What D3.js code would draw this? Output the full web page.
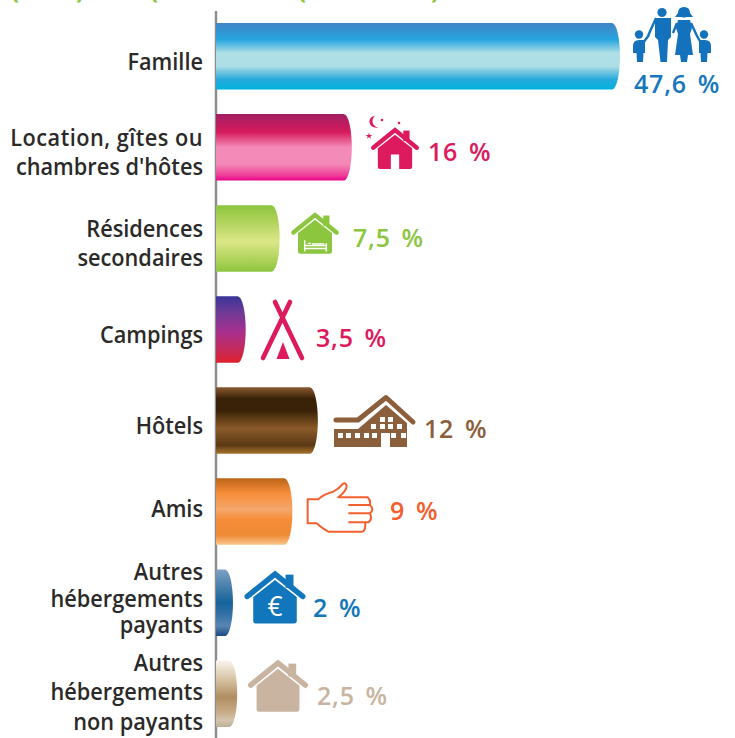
<!DOCTYPE html>
<html>
<head>
<meta charset="utf-8">
<script src="https://cdn.jsdelivr.net/npm/d3@7"></script>
<style>
  html, body { margin: 0; padding: 0; background: #fff; }
  svg { display: block; }
  text { font-family: "Open Sans", sans-serif; }
</style>
</head>
<body>
<div id="chart"></div>
<script>
const categories = ["Famille", "Location, gîtes ou|chambres d'hôtes", "Résidences|secondaires", "Campings", "Hôtels", "Amis", "Autres|hébergements|payants", "Autres|hébergements|non payants"];
const values = [47.6, 16, 7.5, 3.5, 12, 9, 2, 2.5];
const valueLabels = ["47,6 %", "16 %", "7,5 %", "3,5 %", "12 %", "9 %", "2 %", "2,5 %"];

// styling per bar
const labelColors = ["#1776bc", "#dd1a5e", "#8cc63f", "#dd1a5e", "#8b5e3c", "#f26030", "#1176bc", "#c8b4a0"];
const barStops = [
  [[0, "#4284c5"], [0.25, "#25a5de"], [0.45, "#aedfe6"], [0.65, "#aedfe6"], [0.85, "#25a9dc"], [1, "#00b3dc"]],
  [[0, "#a01f63"], [0.27, "#d61a5c"], [0.5, "#f48ab8"], [0.75, "#f48ab8"], [0.92, "#ee3f98"], [1, "#ec008c"]],
  [[0, "#8dc63f"], [0.2, "#a9d055"], [0.55, "#dce788"], [0.85, "#a9d055"], [1, "#8dc63f"]],
  [[0, "#3a3597"], [0.25, "#6f3a96"], [0.55, "#aa2f8c"], [0.8, "#c42a5c"], [1, "#e0202c"]],
  [[0, "#8b5a32"], [0.17, "#3a2208"], [0.35, "#3a2208"], [0.62, "#8a5a28"], [0.87, "#5a3814"], [1, "#a8742c"]],
  [[0, "#bb6418"], [0.22, "#f68d39"], [0.47, "#f5a76c"], [0.62, "#f68d39"], [0.85, "#ee8a34"], [1, "#fcc58c"]],
  [[0, "#7da0c4"], [0.3, "#3f7aa8"], [0.5, "#14649c"], [0.65, "#2f6ea4"], [0.85, "#5a86b4"], [1, "#1c4a80"]],
  [[0, "#f8f4ee"], [0.28, "#d8c4a4"], [0.55, "#b08e60"], [0.75, "#c4a884"], [0.9, "#d4c4ac"], [1, "#bcae98"]]
];
// text placement (baselines do not follow the bars exactly in the original)
const labelBaselines = [[70], [146, 175], [237, 266], [343], [434], [517], [580, 607, 633], [671, 700, 730]];
const valuePos = [[634, 93], [428, 161], [353, 247], [316, 347], [424, 438], [390, 520], [313, 617], [317, 705]];

const width = 735, height = 738;
const svg = d3.select("#chart").append("svg").attr("width", width).attr("height", height);

const x = d3.scaleLinear().domain([0, 47.6]).range([216, 620]);
const y = d3.scaleBand().domain(categories).range([23, 727]).paddingInner(0.27).paddingOuter(0);

const defs = svg.append("defs");
barStops.forEach((stops, i) => {
  const g = defs.append("linearGradient").attr("id", "bar" + i).attr("x1", 0).attr("x2", 0).attr("y1", 0).attr("y2", 1);
  stops.forEach((s) => g.append("stop").attr("offset", s[0]).attr("stop-color", s[1]));
});

// cut off title at the top of the picture, only the descenders show
const titleBits = [[11, "("], [76, ")"], [150, "("], [298, "("], [431, ")"]];
svg.append("g").selectAll("text").data(titleBits).enter().append("text")
  .attr("x", (d) => d[0]).attr("y", -1)
  .attr("font-size", 24).attr("font-weight", 700).attr("fill", "#8dc63f")
  .text((d) => d[1]);

svg.append("line").attr("x1", 216).attr("x2", 216).attr("y1", 11).attr("y2", 738)
  .attr("stroke", "#8a8c90").attr("stroke-width", 2.4);

// bars: flat at the axis, half ellipse on the right end
const barPath = (d) => {
  const w = x(d) - x(0), h = y.bandwidth(), b = 8;
  return `M0,0 H${w - b} A${b},${h / 2} 0 0 1 ${w - b},${h} H0 Z`;
};

svg.append("g").selectAll("path").data(values).enter().append("path")
  .attr("transform", (d, i) => `translate(${x(0)},${y(categories[i])})`)
  .attr("d", barPath)
  .attr("fill", (d, i) => `url(#bar${i})`);

// category labels
const labelScale = 0.945;
const labels = svg.append("g").selectAll("text").data(categories).enter().append("text")
  .attr("text-anchor", "end")
  .attr("font-size", 23).attr("font-weight", 600).attr("fill", "#2b2a29")
  .attr("transform", `scale(${labelScale},1)`);
labels.each(function (d, n) {
  d3.select(this).selectAll("tspan").data(d.split("|")).enter().append("tspan")
    .attr("x", 203 / labelScale)
    .attr("y", (l, i) => labelBaselines[n][i])
    .attr("letter-spacing", (l) => (l.startsWith("Location") ? 0.5 : 0))
    .text((l) => l);
});

// value labels
svg.append("g").selectAll("text").data(valueLabels).enter().append("text")
  .attr("x", (d, i) => valuePos[i][0])
  .attr("y", (d, i) => valuePos[i][1])
  .attr("font-size", 25).attr("font-weight", 600)
  .attr("letter-spacing", 0.8).attr("word-spacing", 3.5)
  .attr("fill", (d, i) => labelColors[i])
  .text((d) => d);

// pictograms
const icons = svg.append("g");

const house = (cx, top, s, color) => {
  const g = icons.append("g").attr("transform", `translate(${cx},${top}) scale(${s})`);
  g.append("path").attr("d", "M-21,18.5 L0,1.5 L21,18.5").attr("fill", "none")
    .attr("stroke", color).attr("stroke-width", 4.2).attr("stroke-linecap", "round");
  g.append("rect").attr("x", 8).attr("y", 2).attr("width", 6).attr("height", 10).attr("fill", color);
  g.append("path").attr("d", "M-16.5,19 L0,6 L16.5,19 V37 Q16.5,39 14.5,39 H-14.5 Q-16.5,39 -16.5,37 Z").attr("fill", color);
  return g;
};

// family
const fam = icons.append("g").attr("fill", "#1472bc");
[[662, 12.5, 4.6], [684, 13, 4.6], [639, 34.5, 4.2], [704, 34.5, 4.2]].forEach((c) =>
  fam.append("circle").attr("cx", c[0]).attr("cy", c[1]).attr("r", c[2]));
fam.append("path").attr("d", "M678,13 Q678,7 684,7 Q690,7 690,13 L693,17 H675 Z");
fam.append("path").attr("d", "M655,18 H671 V37 L668,40 L667,62 H660.5 L658,40 L655,37 Z");
fam.append("path").attr("d", "M678,20 H690 L692,28 L690,34 L693,55 H688 L687,62 H681 L680,55 H675 L678,34 L676,28 Z");
fam.append("path").attr("d", "M633,46 Q633,40 639,40 H645 V53 H643.5 L643,62 H637 L636.5,53 H633 Z");
fam.append("path").attr("d", "M699,40 H705 Q711,40 711,46 V53 H707.5 L707,62 H701 L700.5,53 H699 Z");
fam.append("path").attr("d", "M656,18 L648,36 M643,43 L649,35 M677,23 L673,33 M691,23 L697,36 M697,36 L701,43")
  .attr("fill", "none").attr("stroke", "#1472bc").attr("stroke-width", 2.4);

// location: house at night
const pink = labelColors[1];
const night = house(395, 128.5, 1.04, pink);
night.append("rect").attr("x", -4).attr("y", 25).attr("width", 8).attr("height", 14.5).attr("fill", "#fff");
icons.append("path").attr("d", "M375,116 C368,116 366,128 379,128 C373,127 370,120 375,116 Z").attr("fill", pink);
[[382, 120, 1.3], [399, 123, 1.3]].forEach((c) =>
  icons.append("circle").attr("cx", c[0]).attr("cy", c[1]).attr("r", c[2]).attr("fill", pink));
icons.append("path").attr("d", d3.symbol(d3.symbolStar, 14)()).attr("transform", "translate(369,136)").attr("fill", pink);

// residences: house with a bed
const bed = house(315, 213.5, 1.03, labelColors[2]);
bed.append("path")
  .attr("d", "M-10,26 V37 M11,29 V37 M-10,34 H11 M-10,31 H11 M-7,29 H-4 M-3,29.5 H9")
  .attr("fill", "none").attr("stroke", "#fff").attr("stroke-width", 1.4);

// tent
const tentColor = labelColors[3];
icons.append("path").attr("d", "M275,302 L302,358 M290,302 L263,358").attr("fill", "none")
  .attr("stroke", tentColor).attr("stroke-width", 4.6).attr("stroke-linecap", "round");
icons.append("path").attr("d", "M283,342 L289.5,359 H276.5 Z").attr("fill", tentColor);

// hotel
const hotelColor = labelColors[4];
icons.append("path").attr("d", "M336,420 H358 L386,397.5 L413,422").attr("fill", "none")
  .attr("stroke", hotelColor).attr("stroke-width", 5).attr("stroke-linecap", "round").attr("stroke-linejoin", "round");
icons.append("path").attr("d", "M334,429 H358 L386,405 L407,423 V447 H390 V433 H381 V447 H334 Z").attr("fill", hotelColor);
const hotelWindows = [[338, 433], [346, 433], [355, 433], [364, 433], [372, 433], [391, 433], [401, 433],
  [371, 424], [380, 424], [388, 424], [397, 424], [380, 417], [388, 417]];
icons.append("g").selectAll("rect").data(hotelWindows).enter().append("rect")
  .attr("x", (d) => d[0]).attr("y", (d) => d[1]).attr("width", 5).attr("height", 5).attr("fill", "#fff");

// friends: hand, outline then finger lines
icons.append("path")
  .attr("transform", "translate(200,470) scale(0.3333)")
  .attr("d", "M323,88 H355 Q370,72 400,65 Q415,58 428,42 Q438,36 440,48 Q440,62 415,82 H503 Q513,92 510,105 Q524,118 510,130 Q518,148 505,157 H495 Q498,172 492,182 Q490,185 485,185 H385 Q370,178 350,160 H323 Z M445,105 H510 M445,130 H510 M445,157 H505")
  .attr("fill", "none").attr("stroke", labelColors[5]).attr("stroke-width", 6).attr("stroke-linejoin", "round");

// other paid: house with euro sign
const euro = house(275, 572, 1.32, labelColors[6]);
euro.append("text").attr("x", 0).attr("y", 33).attr("text-anchor", "middle")
  .attr("font-size", 20).attr("font-weight", 500).attr("fill", "#fff").text("€");

// other free: plain house
house(278, 661, 1.3, labelColors[7]);
</script>
</body>
</html>
